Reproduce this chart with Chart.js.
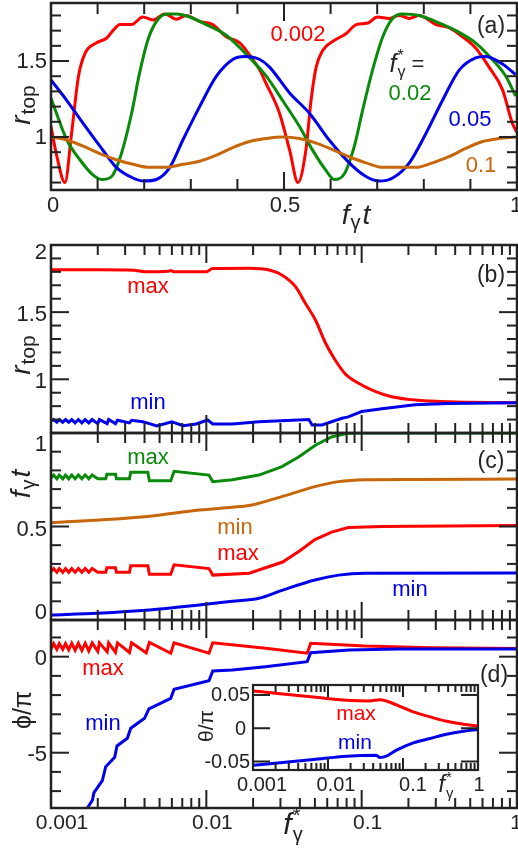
<!DOCTYPE html>
<html><head><meta charset="utf-8">
<script src="https://cdn.jsdelivr.net/npm/chart.js@4.4.1/dist/chart.umd.min.js"></script>
<style>
html,body{margin:0;padding:0;background:#fff;overflow:hidden;}
#wrap{position:relative;width:518px;height:850px;background:#fff;}
canvas{position:absolute;left:0;top:0;}
#insetBg{position:absolute;left:253px;top:685px;width:225px;height:85px;background:#fff;}
</style></head><body><div id="wrap">
<canvas id="cA" width="518" height="850"></canvas>
<canvas id="cB" width="518" height="850"></canvas>
<canvas id="cC" width="518" height="850"></canvas>
<canvas id="cD" width="518" height="850"></canvas>
<div id="insetBg"></div>
<canvas id="cI" width="518" height="850"></canvas>
</div>
<script>
// ---------- DATA ----------
// Panel (a): r_top vs f_gamma t for four f*_gamma values
const tRed002 = [0,0.012,0.03,0.044,0.059,0.073,0.098,0.119,0.133,0.148,0.173,0.197,0.219,0.244,0.269,0.29,0.319,0.347,0.376,0.405,0.433,0.448,0.462,0.49,0.512,0.53,0.547,0.558,0.569,0.583,0.605,0.633,0.655,0.68,0.70,0.726,0.747,0.769,0.79,0.826,0.854,0.883,0.91,0.94,0.969,0.99,1.0];
const rRed002 = [1.07,0.88,0.70,1.02,1.40,1.55,1.62,1.65,1.70,1.74,1.74,1.79,1.77,1.81,1.775,1.80,1.76,1.74,1.66,1.62,1.51,1.44,1.35,1.16,0.915,0.70,0.915,1.24,1.46,1.57,1.63,1.68,1.74,1.75,1.79,1.78,1.80,1.78,1.80,1.74,1.72,1.66,1.59,1.46,1.31,1.09,1.03];
const tGreen002 = [0,0.034,0.062,0.09,0.109,0.13,0.151,0.173,0.19,0.208,0.226,0.248,0.269,0.298,0.333,0.376,0.411,0.448,0.462,0.497,0.533,0.561,0.59,0.608,0.63,0.651,0.669,0.69,0.712,0.733,0.754,0.79,0.826,0.869,0.911,0.947,0.976,0.997];
const rGreen002 = [1.255,0.98,0.85,0.75,0.72,0.74,0.89,1.156,1.42,1.64,1.76,1.81,1.81,1.79,1.74,1.67,1.57,1.45,1.40,1.24,1.07,0.915,0.78,0.72,0.76,0.94,1.18,1.44,1.66,1.78,1.81,1.80,1.76,1.70,1.62,1.51,1.40,1.27];
const tBlue005 = [0,0.034,0.069,0.105,0.14,0.176,0.2,0.226,0.255,0.283,0.319,0.355,0.39,0.415,0.448,0.469,0.512,0.555,0.597,0.64,0.676,0.704,0.733,0.769,0.804,0.84,0.876,0.911,0.933,0.969,0.997];
const rBlue005 = [1.375,1.24,1.09,0.94,0.80,0.73,0.71,0.72,0.80,0.98,1.20,1.40,1.51,1.53,1.51,1.46,1.29,1.155,0.98,0.83,0.74,0.71,0.73,0.83,1.02,1.24,1.44,1.52,1.53,1.48,1.41];
const tOrange01 = [0,0.034,0.069,0.105,0.14,0.176,0.212,0.248,0.283,0.319,0.355,0.39,0.426,0.462,0.497,0.533,0.569,0.605,0.64,0.676,0.712,0.747,0.783,0.819,0.854,0.89,0.926,0.961,0.997];
const rOrange01 = [1.0,0.98,0.94,0.89,0.85,0.82,0.80,0.80,0.82,0.84,0.88,0.93,0.97,0.99,1.0,0.99,0.96,0.915,0.87,0.83,0.80,0.80,0.80,0.83,0.87,0.925,0.97,0.99,1.0];
const seriesLabelsA = ['0.002','0.02','0.05','0.1'];

// Panel (b): r_top max / min vs f*_gamma
const fBmax = [0.001,0.002,0.0034,0.0041,0.0057,0.0059,0.0062,0.0100,0.011,0.0189,0.0254,0.0306,0.0375,0.0434,0.0505,0.0585,0.0675,0.0785,0.0955,0.122,0.156,0.22,0.36,1.0];
const rBmax = [1.815,1.815,1.812,1.80,1.805,1.81,1.80,1.80,1.825,1.827,1.814,1.777,1.69,1.566,1.44,1.27,1.144,1.04,0.97,0.91,0.87,0.846,0.833,0.826];
const fBmin = [0.001,0.00104,0.00109,0.00113,0.00119,0.00124,0.0013,0.00136,0.00143,0.0015,0.00158,0.00166,0.00175,0.00184,0.002,0.00205,0.0023,0.00235,0.0026,0.00268,0.0032,0.0033,0.0039,0.0043,0.0048,0.006,0.0071,0.0086,0.0102,0.011,0.0147,0.0218,0.0457,0.048,0.0556,0.0746,0.082,0.1,0.135,0.22,0.36,1.0];
const rBmin = [0.69,0.70,0.68,0.70,0.68,0.70,0.68,0.70,0.675,0.70,0.675,0.70,0.675,0.70,0.67,0.70,0.67,0.70,0.67,0.695,0.675,0.695,0.684,0.67,0.652,0.684,0.655,0.667,0.697,0.667,0.667,0.684,0.70,0.66,0.66,0.71,0.72,0.76,0.78,0.81,0.82,0.826];

// Panel (c): f_gamma t of the extrema
const fCgreen = [0.001,0.00104,0.00109,0.00113,0.00119,0.00124,0.0013,0.00136,0.00143,0.0015,0.00158,0.00166,0.00175,0.00184,0.002,0.00225,0.00229,0.0026,0.00264,0.0032,0.00326,0.0042,0.0043,0.0059,0.0062,0.0104,0.011,0.0147,0.0218,0.0307,0.0395,0.0506,0.0645,0.082,0.105,1.0];
const vCgreen = [0.76,0.775,0.755,0.775,0.755,0.775,0.755,0.775,0.755,0.775,0.755,0.775,0.755,0.775,0.755,0.755,0.78,0.78,0.755,0.755,0.79,0.79,0.745,0.745,0.795,0.775,0.74,0.75,0.775,0.82,0.873,0.936,0.98,0.998,1.0,1.0];
const fCorange = [0.001,0.00206,0.0043,0.009,0.0147,0.0189,0.0218,0.0307,0.05,0.071,0.105,0.22,1.0];
const vCorange = [0.52,0.535,0.555,0.588,0.603,0.612,0.624,0.66,0.713,0.74,0.75,0.752,0.754];
const fCred = [0.001,0.00104,0.00109,0.00113,0.00119,0.00124,0.0013,0.00136,0.00143,0.0015,0.00158,0.00166,0.00175,0.00184,0.002,0.00225,0.00229,0.0026,0.00264,0.0032,0.00326,0.0042,0.0043,0.0059,0.0062,0.0104,0.011,0.0189,0.031,0.04,0.05,0.064,0.082,0.135,1.0];
const vCred = [0.26,0.275,0.255,0.275,0.255,0.275,0.255,0.275,0.255,0.275,0.255,0.275,0.255,0.275,0.255,0.255,0.28,0.28,0.255,0.255,0.29,0.29,0.245,0.245,0.295,0.275,0.24,0.25,0.31,0.37,0.43,0.47,0.495,0.50,0.505];
const fCblue = [0.001,0.002,0.0043,0.009,0.0147,0.0218,0.031,0.05,0.071,0.105,1.0];
const vCblue = [0.027,0.036,0.053,0.08,0.1,0.116,0.16,0.214,0.24,0.25,0.252];

// Panel (d): phi/pi max / min
const fDmax = [0.001,0.00104,0.00109,0.00113,0.00119,0.00124,0.0013,0.00136,0.00143,0.0015,0.00158,0.00166,0.00175,0.00184,0.002,0.00205,0.0023,0.00235,0.0026,0.00268,0.0032,0.0033,0.0041,0.0043,0.0059,0.0062,0.0104,0.011,0.0241,0.0446,0.047,0.105,0.28,1.0];
const vDmax = [0.40,0.68,0.38,0.68,0.38,0.68,0.36,0.70,0.34,0.70,0.32,0.70,0.30,0.72,0.28,0.72,0.25,0.72,0.22,0.72,0.22,0.72,0.20,0.74,0.18,0.72,0.18,0.72,0.44,0.18,0.70,0.56,0.47,0.42];
const fDmin = [0.00171,0.00185,0.00189,0.00214,0.00225,0.00257,0.00266,0.0031,0.00326,0.004,0.00427,0.0059,0.0062,0.0104,0.011,0.0147,0.024,0.0446,0.047,0.083,0.172,1.0];
const vDmin = [-7.9,-7.46,-7.08,-6.46,-5.73,-5.24,-4.65,-4.25,-3.73,-3.21,-2.72,-2.17,-1.70,-1.25,-0.745,-0.69,-0.52,-0.26,0.21,0.35,0.40,0.40];

// Inset: theta/pi max / min
const fImax = [0.001,0.0023,0.0064,0.0177,0.036,0.049,0.06,0.082,0.137,0.23,0.38,0.64,1.0];
const vImax = [0.056,0.052,0.047,0.042,0.041,0.043,0.041,0.035,0.0245,0.017,0.0105,0.006,0.003];
const fImin = [0.001,0.0023,0.0064,0.0177,0.044,0.049,0.06,0.082,0.137,0.23,0.38,0.64,1.0];
const vImin = [-0.0557,-0.052,-0.047,-0.042,-0.0406,-0.044,-0.042,-0.033,-0.022,-0.0155,-0.009,-0.0045,-0.002];

// Tick values / labels
const ticksA_x = [0, 0.5, 1];           const ticksA_xLab = ['0','0.5','1'];
const ticksA_y = [1, 1.5];              const ticksA_yLab = ['1','1.5'];
const ticksB_y = [1, 1.5, 2];           const ticksB_yLab = ['1','1.5','2'];
const ticksC_y = [0, 0.5, 1];           const ticksC_yLab = ['0','0.5','1'];
const ticksD_y = [0, -5];               const ticksD_yLab = ['0','-5'];
const ticksLog = [0.001, 0.01, 0.1, 1]; const ticksLogLab = ['0.001','0.01','0.1','1'];
const ticksI_y = [0.05, 0, -0.05];      const ticksI_yLab = ['0.05','0','-0.05'];

// ---------- DRAWING ----------
const W = 518, H = 850;
const FF = '"Liberation Sans", Arial, Helvetica, sans-serif';
const INK = '#222222';
const RED = '#ff0000', GREEN = '#0a8a0a', BLUE = '#0000e8', ORANGE = '#c8660a';

function pts(xa, ya){ return xa.map((x,i)=>({x:x, y:ya[i]})); }
function logMinor(){ const r=[]; for (const d of [0.001,0.01,0.1]) for (let k=2;k<=9;k++) r.push(k*d); return r; }
const F = (st, sz) => (st ? st + ' ' : '') + sz + 'px ' + FF;

function T(ctx, s, x, y, size, color, align, style){
  ctx.font = F(style||'', size);
  ctx.fillStyle = color; ctx.textAlign = align||'center'; ctx.textBaseline = 'middle';
  ctx.fillText(s, x, y);
}
function rich(ctx, segs, cx, cy, rot, color){
  ctx.save(); ctx.translate(cx, cy); if (rot) ctx.rotate(rot);
  ctx.fillStyle = color; ctx.textBaseline = 'middle'; ctx.textAlign = 'left';
  let w = 0; const ws = [];
  for (const s of segs){ ctx.font = s.f; const sw = ctx.measureText(s.t).width; ws.push(sw); if(!s.hold) w += sw + (s.gap||0); }
  let x = -w/2;
  segs.forEach((s,i)=>{ ctx.font = s.f; ctx.fillText(s.t, x + (s.dx||0), s.dy||0); if(!s.hold) x += ws[i] + (s.gap||0); });
  ctx.restore();
}

function axesPlugin(p){
  return {
    id: 'ax' + p.name,
    afterDraw(chart){
      const ctx = chart.ctx, a = chart.chartArea, xs = chart.scales.x, ys = chart.scales.y;
      ctx.save();
      ctx.fillStyle = INK;
      const xv = p.xMajor.concat(p.xMinor);
      for (let i = 0; i < xv.length; i++){
        const len = i < p.xMajor.length ? p.xMajLen : p.xMinLen;
        const x = xs.getPixelForValue(xv[i]);
        ctx.fillRect(x - 1, a.bottom - len, 2, len);
        ctx.fillRect(x - 1, a.top, 2, len);
      }
      const yv = p.yMajor.concat(p.yMinor);
      for (let i = 0; i < yv.length; i++){
        const len = i < p.yMajor.length ? p.yMajLen : p.yMinLen;
        const y = ys.getPixelForValue(yv[i]);
        ctx.fillRect(a.left, y - 1, len, 2);
        ctx.fillRect(a.right - len, y - 1, len, 2);
      }
      ctx.strokeStyle = INK; ctx.lineWidth = p.frameW || 2.5;
      ctx.strokeRect(a.left, a.top, a.right-a.left, a.bottom-a.top);
      p.labels(ctx, xs, ys);
      ctx.restore();
    }
  };
}

function makeChart(id, area, xs, ys, datasets, plugin){
  return new Chart(document.getElementById(id), {
    type: 'line',
    data: { datasets: datasets },
    options: {
      responsive: false, animation: false, devicePixelRatio: 1, events: [],
      layout: { padding: { left: area.l, top: area.t, right: W - area.r, bottom: H - area.b } },
      plugins: { legend: { display: false }, tooltip: { enabled: false }, title: { display: false } },
      scales: { x: Object.assign({ display: false }, xs), y: Object.assign({ display: false }, ys) },
      elements: { point: { radius: 0 }, line: { borderWidth: 3, tension: 0 } }
    },
    plugins: [plugin]
  });
}
function ds(xa, ya, color, smooth){
  return { data: pts(xa, ya), borderColor: color, borderWidth: 3, fill: false, pointRadius: 0,
           cubicInterpolationMode: smooth ? 'monotone' : 'default' };
}

const rTopTitle = [{t:'r', f:F('italic',28)}, {t:'top', f:F('',21), dy:7, dx:1, gap:1}];
const fgtTitle = [{t:'f', f:F('italic',28), gap:1}, {t:'γ', f:F('',20), dy:7, gap:2}, {t:'t', f:F('italic',28)}];

// Panel (a)
makeChart('cA', {l:51, t:3, r:517, b:190},
  {type:'linear', min:0, max:1}, {type:'linear', min:0.651, max:1.882},
  [ds(tOrange01, rOrange01, ORANGE, true), ds(tBlue005, rBlue005, BLUE, true),
   ds(tGreen002, rGreen002, GREEN, true), ds(tRed002, rRed002, RED, true)],
  axesPlugin({name:'A', xMajor:ticksA_x, xMinor:[0.1,0.2,0.3,0.4,0.6,0.7,0.8,0.9], xMajLen:18, xMinLen:11,
    yMajor:ticksA_y, yMinor:[0.7,0.8,0.9,1.1,1.2,1.3,1.4,1.6,1.7,1.8], yMajLen:18, yMinLen:10,
    labels(ctx, xs, ys){
      ticksA_y.forEach((v,i)=>T(ctx, ticksA_yLab[i], 47, ys.getPixelForValue(v)+1, 22, INK, 'right'));
      const nx = [2, 1, -1];
      ticksA_x.forEach((v,i)=>T(ctx, ticksA_xLab[i], xs.getPixelForValue(v)+nx[i], 206, 22, INK, 'center'));
      rich(ctx, rTopTitle, 22, 105, -Math.PI/2, INK);
      rich(ctx, fgtTitle, 356, 216, 0, INK);
      T(ctx, '(a)', 491, 27, 23, INK);
      T(ctx, seriesLabelsA[0], 298, 35, 22, RED);
      rich(ctx, [{t:'f', f:F('italic',25), gap:1}, {t:'*', f:F('',16), dy:-8, hold:true}, {t:'γ', f:F('',16), dy:8}, {t:' =', f:F('',22)}], 407, 65, 0, INK);
      T(ctx, seriesLabelsA[1], 410, 94, 22, GREEN);
      T(ctx, seriesLabelsA[2], 470, 120, 22, BLUE);
      T(ctx, seriesLabelsA[3], 481, 166, 22, ORANGE);
    }}));

const LOGX = {type:'logarithmic', min:0.001, max:1};
const logMin = logMinor();
function logXLabels(ctx, xs, y){
  const nx = [11, 6, 6, -1];
  ticksLog.forEach((v,i)=>T(ctx, ticksLogLab[i], xs.getPixelForValue(v)+nx[i], y, 21, INK, 'center'));
}

// Panel (b)
makeChart('cB', {l:51, t:245, r:517, b:433}, LOGX, {type:'linear', min:0.6, max:2.0},
  [ds(fBmin, rBmin, BLUE, false), ds(fBmax, rBmax, RED, true)],
  axesPlugin({name:'B', xMajor:ticksLog, xMinor:logMin, xMajLen:18, xMinLen:10,
    yMajor:ticksB_y, yMinor:[0.7,0.8,0.9,1.1,1.2,1.3,1.4,1.6,1.7,1.8,1.9], yMajLen:18, yMinLen:10,
    labels(ctx, xs, ys){
      const ny = [3, 3, 8];
      ticksB_y.forEach((v,i)=>T(ctx, ticksB_yLab[i], 47, ys.getPixelForValue(v)+ny[i], 22, INK, 'right'));
      rich(ctx, rTopTitle, 22, 355, -Math.PI/2, INK);
      T(ctx, '(b)', 491, 276, 23, INK);
      T(ctx, 'max', 148, 287, 22, RED);
      T(ctx, 'min', 148, 403, 22, BLUE);
    }}));

// Panel (c)
makeChart('cC', {l:51, t:433, r:517, b:620}, LOGX, {type:'linear', min:0, max:1.0},
  [ds(fCblue, vCblue, BLUE, true), ds(fCred, vCred, RED, false), ds(fCorange, vCorange, ORANGE, true), ds(fCgreen, vCgreen, GREEN, false)],
  axesPlugin({name:'C', xMajor:ticksLog, xMinor:logMin, xMajLen:18, xMinLen:10,
    yMajor:ticksC_y, yMinor:[0.1,0.2,0.3,0.4,0.6,0.7,0.8,0.9], yMajLen:18, yMinLen:10,
    labels(ctx, xs, ys){
      const ny = [-7, 3, 12];
      ticksC_y.forEach((v,i)=>T(ctx, ticksC_yLab[i], 47, ys.getPixelForValue(v)+ny[i], 22, INK, 'right'));
      rich(ctx, fgtTitle, 22, 484, -Math.PI/2, INK);
      T(ctx, '(c)', 491, 462, 23, INK);
      T(ctx, 'max', 148, 458, 22, GREEN);
      T(ctx, 'min', 235, 528, 22, ORANGE);
      T(ctx, 'max', 238, 554, 22, RED);
      T(ctx, 'min', 410, 590, 22, BLUE);
    }}));

// Panel (d)
makeChart('cD', {l:51, t:620, r:517, b:808}, LOGX, {type:'linear', min:-7.88, max:1.91},
  [ds(fDmin, vDmin, BLUE, false), ds(fDmax, vDmax, RED, false)],
  axesPlugin({name:'D', xMajor:ticksLog, xMinor:logMin, xMajLen:18, xMinLen:10,
    yMajor:ticksD_y, yMinor:[1,-1,-2,-3,-4,-6,-7], yMajLen:18, yMinLen:10,
    labels(ctx, xs, ys){
      ticksD_y.forEach((v,i)=>T(ctx, ticksD_yLab[i], 47, ys.getPixelForValue(v)+2, 22, INK, 'right'));
      logXLabels(ctx, xs, 823);
      rich(ctx, [{t:'ϕ/π', f:F('',25)}], 24, 710, -Math.PI/2, INK);
      rich(ctx, [{t:'f', f:F('italic',30), gap:1}, {t:'*', f:F('',20), dy:-10, hold:true}, {t:'γ', f:F('',20), dy:9}], 293, 826, 0, INK);
      T(ctx, '(d)', 494, 676, 23, INK);
      T(ctx, 'max', 103, 669, 22, RED);
      T(ctx, 'min', 103, 724, 22, BLUE);
    }}));

// Inset
makeChart('cI', {l:253, t:685, r:478, b:770}, LOGX, {type:'linear', min:-0.0628, max:0.065},
  [ds(fImin, vImin, BLUE, true), ds(fImax, vImax, RED, true)],
  axesPlugin({name:'I', frameW:2.2, xMajor:ticksLog, xMinor:logMin, xMajLen:12, xMinLen:7,
    yMajor:ticksI_y, yMinor:[], yMajLen:17, yMinLen:8,
    labels(ctx, xs, ys){
      ticksI_y.forEach((v,i)=>T(ctx, ticksI_yLab[i], i===1 ? 246 : 250, ys.getPixelForValue(v)+1, 20, INK, 'right'));
      const nx = [9, 8, 10, 1];
      ticksLog.forEach((v,i)=>T(ctx, ticksLogLab[i], xs.getPixelForValue(v)+nx[i], 785, 20, INK, 'center'));
      rich(ctx, [{t:'f', f:F('italic',23), gap:1}, {t:'*', f:F('',15), dy:-8, hold:true}, {t:'γ', f:F('',15), dy:8}], 446, 786, 0, INK);
      rich(ctx, [{t:'θ/π', f:F('',21)}], 207, 726, -Math.PI/2, INK);
      T(ctx, 'max', 356, 714, 21, RED);
      T(ctx, 'min', 355, 743, 21, BLUE);
    }}));
</script>
</body></html>
